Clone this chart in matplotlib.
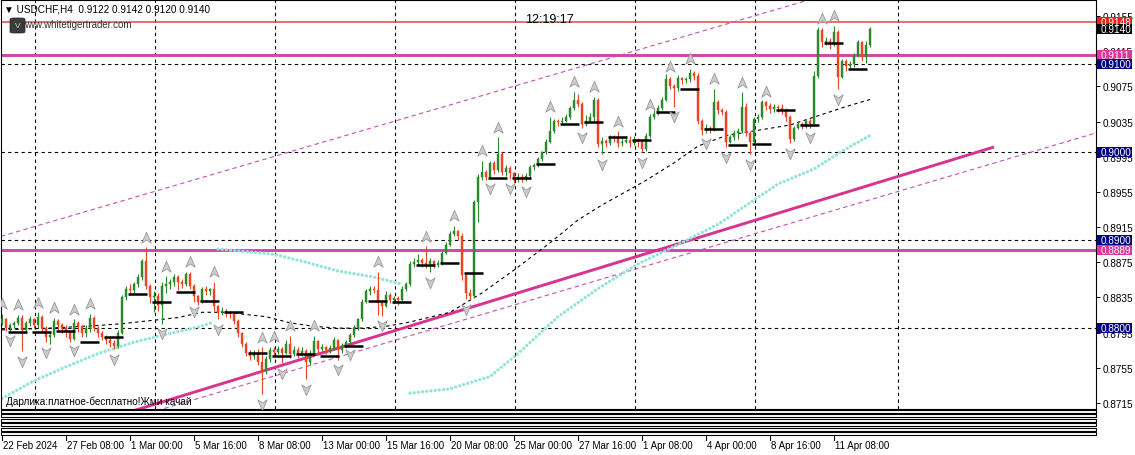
#!/usr/bin/env python3

import numpy as np
import matplotlib
matplotlib.use('Agg')
import matplotlib.pyplot as plt
import matplotlib.transforms as mtransforms
from matplotlib.path import Path
from matplotlib.patches import Rectangle, FancyBboxPatch


W, H = 1135, 456

# USDCHF H4 bars, prices in points (1 point = 0.0001)
first_open = 8806
closes = [
	8810, 8800, 8803, 8806, 8812, 8798, 8806, 8810, 8803, 8813, 8800, 8790,
	8792, 8808, 8803, 8800, 8796, 8788, 8806, 8802, 8794, 8800, 8812, 8800,
	8795, 8790, 8786, 8783, 8780, 8795, 8835, 8845, 8843, 8850, 8858, 8876,
	8848, 8835, 8836, 8826, 8848, 8850, 8852, 8858, 8853, 8850, 8862, 8848,
	8836, 8830, 8845, 8842, 8844, 8825, 8818, 8820, 8818, 8816, 8808, 8795,
	8782, 8772, 8768, 8772, 8762, 8752, 8765, 8775, 8773, 8776, 8772, 8782,
	8770, 8775, 8771, 8774, 8762, 8772, 8785, 8776, 8778, 8775, 8777, 8786,
	8775, 8779, 8784, 8792, 8800, 8810, 8830, 8842, 8845, 8843, 8828, 8825,
	8838, 8832, 8834, 8832, 8845, 8850, 8873, 8875, 8878, 8874, 8873, 8876,
	8872, 8874, 8886, 8895, 8907, 8910, 8905, 8860, 8840, 8836, 8944, 8972,
	8978, 8972, 8988, 8980, 8998, 8978, 8982, 8976, 8970, 8972, 8970, 8973,
	8983, 8985, 8992, 9000, 9012, 9024, 9036, 9034, 9036, 9040, 9050, 9060,
	9055, 9032, 9036, 9040, 9060, 9009, 9013, 9010, 9017, 9016, 9010, 9012,
	9014, 9010, 9014, 9012, 9004, 9018, 9040, 9044, 9050, 9060, 9083, 9075,
	9073, 9084, 9082, 9083, 9090, 9087, 9036, 9025, 9028, 9026, 9057, 9048,
	9046, 9012, 9017, 9022, 9024, 9052, 9022, 9012, 9038, 9040, 9057, 9053,
	9049, 9052, 9050, 9048, 9040, 9015, 9028, 9032, 9030, 9036, 9032, 9087,
	9139, 9125, 9127, 9123, 9137, 9086, 9104, 9098, 9100, 9110, 9125, 9108,
	9122, 9140,
]
highs = [
	8816, 8812, 8806, 8808, 8815, 8815, 8808, 8814, 8812, 8818, 8815, 8802,
	8796, 8812, 8810, 8806, 8803, 8798, 8810, 8808, 8804, 8804, 8816, 8814,
	8802, 8797, 8792, 8789, 8786, 8798, 8838, 8848, 8850, 8853, 8862, 8879,
	8892, 8850, 8842, 8840, 8852, 8859, 8856, 8861, 8860, 8856, 8864, 8864,
	8850, 8838, 8847, 8848, 8846, 8853, 8826, 8824, 8822, 8820, 8818, 8810,
	8796, 8784, 8775, 8775, 8776, 8778, 8768, 8778, 8779, 8780, 8778, 8786,
	8791, 8780, 8778, 8778, 8776, 8775, 8791, 8787, 8782, 8780, 8781, 8790,
	8788, 8783, 8787, 8795, 8803, 8812, 8833, 8845, 8848, 8848, 8864, 8832,
	8842, 8840, 8837, 8836, 8848, 8853, 8876, 8880, 8884, 8880, 8893, 8880,
	8878, 8877, 8888, 8898, 8910, 8916, 8912, 8908, 8862, 8845, 8946, 8975,
	8990, 8980, 8990, 8990, 9017, 9000, 8986, 8984, 8978, 8976, 8975, 8976,
	8985, 8988, 8995, 9002, 9015, 9040, 9038, 9038, 9040, 9043, 9053, 9069,
	9066, 9057, 9042, 9045, 9063, 9062, 9017, 9015, 9020, 9020, 9024, 9016,
	9018, 9018, 9018, 9016, 9014, 9022, 9043, 9048, 9054, 9063, 9089, 9086,
	9078, 9088, 9086, 9086, 9095, 9092, 9090, 9038, 9032, 9030, 9072, 9060,
	9050, 9048, 9020, 9025, 9028, 9068, 9056, 9024, 9040, 9044, 9060, 9058,
	9056, 9055, 9054, 9055, 9050, 9042, 9030, 9036, 9034, 9038, 9038, 9093,
	9142, 9141, 9131, 9130, 9144, 9139, 9106, 9106, 9104, 9113, 9128, 9127,
	9127, 9142,
]
lows = [
	8804, 8797, 8797, 8800, 8803, 8774, 8795, 8802, 8800, 8800, 8796, 8784,
	8782, 8790, 8798, 8795, 8790, 8784, 8786, 8796, 8790, 8790, 8796, 8797,
	8790, 8786, 8782, 8778, 8776, 8777, 8793, 8832, 8838, 8840, 8847, 8855,
	8845, 8828, 8818, 8820, 8805, 8840, 8845, 8848, 8843, 8846, 8848, 8845,
	8830, 8826, 8828, 8838, 8838, 8820, 8810, 8815, 8813, 8812, 8805, 8790,
	8778, 8768, 8764, 8765, 8758, 8725, 8748, 8762, 8768, 8770, 8760, 8770,
	8766, 8768, 8766, 8768, 8742, 8758, 8770, 8770, 8774, 8770, 8772, 8775,
	8764, 8772, 8777, 8782, 8790, 8798, 8808, 8828, 8838, 8840, 8815, 8814,
	8824, 8828, 8829, 8826, 8830, 8842, 8848, 8870, 8872, 8870, 8868, 8864,
	8868, 8869, 8872, 8884, 8893, 8905, 8900, 8855, 8833, 8833, 8834, 8921,
	8968, 8968, 8970, 8975, 8978, 8974, 8973, 8970, 8965, 8966, 8966, 8967,
	8970, 8980, 8983, 8990, 8998, 9010, 9022, 9030, 9032, 9034, 9038, 9048,
	9052, 9028, 9030, 9034, 9036, 9006, 8998, 9006, 9008, 9012, 9006, 9007,
	9010, 9006, 9008, 9006, 9000, 9002, 9016, 9038, 9042, 9048, 9058, 9072,
	9052, 9070, 9078, 9079, 9080, 9082, 9032, 9020, 9022, 9022, 9024, 9044,
	9042, 9006, 9010, 9014, 9015, 9022, 9018, 8998, 9010, 9035, 9038, 9048,
	9045, 9046, 9046, 9044, 9036, 9010, 9013, 9026, 9026, 9028, 9028, 9030,
	9085, 9120, 9122, 9118, 9121, 9072, 9084, 9092, 9096, 9097, 9108, 9104,
	9102, 9120,
]

# daily level segments (one per day, points)
day_levels = [
	8796, 8796, 8797, 8784, 8790, 8839, 8830, 8841, 8831, 8818, 8772, 8768,
	8771, 8768, 8780, 8831, 8830, 8872, 8874, 8863, 8971, 8971, 8987, 9032,
	9034, 9017, 9014, 9046, 9072, 9027, 9008, 9009, 9048, 9031, 9124, 9095,
]

up_fractals = [0, 4, 9, 13, 18, 22, 36, 41, 47, 53, 65, 68, 72, 78, 94, 106,
	113, 120, 124, 137, 143, 148, 154, 162, 167, 172, 178, 185, 191, 205, 208]
down_fractals = [2, 5, 11, 18, 28, 40, 48, 54, 65, 70, 76, 84, 87, 95, 107,
	116, 122, 127, 131, 145, 150, 160, 168, 176, 181, 187, 197, 202, 209]

# moving average readings (bar, points)
ma_bars = [0, 12, 24, 30, 36, 44, 50, 56, 60, 66, 72, 78, 84, 90, 96, 102,
	112, 120, 128, 137, 144, 150, 161, 168, 174, 181, 189, 197, 203, 211, 217]
ma_vals = [8798, 8800, 8803, 8805, 8808, 8812, 8818, 8818, 8816, 8813, 8806,
	8802, 8800, 8800, 8802, 8807, 8818, 8840, 8866, 8897, 8923, 8940, 8968,
	8988, 9007, 9019, 9025, 9031, 9040, 9052, 9060]

# dotted cyan indicator, three pieces
cyan_a_bars = [0, 8, 16, 24, 33, 41, 49, 53]
cyan_a_vals = [8720, 8740, 8756, 8771, 8784, 8793, 8801, 8807]
cyan_b_bars = [54, 68, 76, 84, 93, 100]
cyan_b_vals = [8890, 8884, 8875, 8865, 8858, 8850]
cyan_c_bars = [102, 112, 122, 129, 139, 149, 159, 169, 179, 194, 203, 211, 217]
cyan_c_vals = [8726, 8731, 8745, 8771, 8813, 8845, 8873, 8895, 8918, 8964,
	8981, 9004, 9019]

# trend objects: anchor bars and prices
trend_bars = [30, 248]
trend_vals = [8702, 9006]
chan_up_bars = [-0.5, 200]
chan_up_vals = [8904, 9171]
chan_lo_bars = [217.75, 272.75]
chan_lo_vals = [8947, 9021]

round_levels = [0.9100, 0.9000, 0.8900, 0.8800]
magenta_levels = [0.9111, 0.8889]
red_level = 0.9148

price_ticks = [0.9155, 0.9115, 0.9075, 0.9035, 0.8995, 0.8955, 0.8915,
	0.8875, 0.8835, 0.8795, 0.8755, 0.8715]
box_levels = [0.9148, 0.9140, 0.9111, 0.9100, 0.9000, 0.8900, 0.8889, 0.8800]
box_colors = ['#e8231b', '#000000', '#e0359f', '#000080', '#000080',
	'#000080', '#e0359f', '#000080']

time_labels = ['22 Feb 2024', '27 Feb 08:00', '1 Mar 00:00', '5 Mar 16:00',
	'8 Mar 08:00', '13 Mar 00:00', '15 Mar 16:00', '20 Mar 08:00',
	'25 Mar 00:00', '27 Mar 16:00', '1 Apr 08:00', '4 Apr 00:00',
	'8 Apr 16:00', '11 Apr 08:00']
time_label_bars = [0, 16, 32, 48, 64, 80, 96, 112, 128, 144, 160, 176, 192, 208]
grid_bars = [8.25, 38.25, 68.25, 98.25, 128.25, 158.25, 188.25, 224.0]


def fx(px):
	return px / W


def fy(py):
	return 1 - py / H


def pts(v):
	return np.asarray(v, dtype=float) / 10000.0


def line_through(bars, vals, x0, x1):
	b = np.asarray(bars, dtype=float)
	v = pts(vals)
	k = (v[1] - v[0]) / (b[1] - b[0])
	xs = np.array([x0, x1])
	return xs, v[0] + k * (xs - b[0])


def main():
	plt.rcParams['font.family'] = ['Liberation Sans', 'DejaVu Sans']
	fig = plt.figure(figsize=(W / 100, H / 100), dpi=100)
	fig.patch.set_facecolor('white')

	ax = fig.add_axes([fx(1), fy(410), 1095 / W, 409 / H])
	ax.set_xlim(-0.25, 273.5)
	ax.set_ylim(0.8708, 0.91732)
	for s in ax.spines.values():
		s.set_linewidth(0.8)
		s.set_color('black')
	ax.set_xticks([])
	ax.yaxis.tick_right()
	ax.set_yticks(price_ticks)
	ax.set_yticklabels(['%.4f' % t for t in price_ticks])
	ax.tick_params(axis='y', length=3, width=0.7, pad=1.5, labelsize=7.2, colors='black')

	dash = (0, (3, 3))
	for lv in round_levels:
		ax.axhline(lv, color='black', lw=0.8, ls=dash, zorder=1)
	for gb in grid_bars:
		ax.axvline(gb, color='black', lw=0.8, ls=dash, zorder=1)

	ax.axhline(red_level, color='#e04a4a', lw=1.1, zorder=2)
	for lv in magenta_levels:
		ax.axhline(lv, color='#cc47ad', lw=2.1, zorder=2)

	xs, ys = line_through(chan_up_bars, chan_up_vals, -0.25, 273.5)
	ax.plot(xs, ys, color='#c652b6', lw=0.8, ls=(0, (4, 3)), zorder=2)
	xs, ys = line_through(chan_lo_bars, chan_lo_vals, 35, 273.5)
	ax.plot(xs, ys, color='#c652b6', lw=0.8, ls=(0, (4, 3)), zorder=2)
	ax.plot(trend_bars, pts(trend_vals), color='#d9328f', lw=2.1, zorder=2.2,
		solid_capstyle='butt')

	dot = (0, (0.01, 1.25))
	for b, v in [(cyan_a_bars, cyan_a_vals), (cyan_b_bars, cyan_b_vals), (cyan_c_bars, cyan_c_vals)]:
		ax.plot(b, pts(v), color='#93e4d8', lw=2.4, ls=dot, dash_capstyle='round', zorder=2.5)

	ax.plot(ma_bars, pts(ma_vals), color='black', lw=0.8, ls=(0, (3, 3)), zorder=3)

	# candles
	c = pts(closes)
	o = np.concatenate([[first_open / 10000.0], c[:-1]])
	hi = np.maximum(pts(highs), np.maximum(o, c))
	lo = np.minimum(pts(lows), np.minimum(o, c))
	x = np.arange(len(c))
	bull = c >= o
	col = np.where(bull, '#2b8a2b', '#ea4624')
	ax.vlines(x, lo, hi, colors=col, lw=0.8, zorder=4)
	body = np.where(np.abs(c - o) < 0.00008, 0.00008, c - o)
	ax.bar(x, body, bottom=o, width=0.66, color=col, edgecolor=col, linewidth=0.3, zorder=4.1)

	for k, lv in enumerate(day_levels):
		s = 2 + 6 * k
		ax.hlines(lv / 10000.0, s - 0.5, s + 4.2, color='black', lw=1.8, zorder=4.5)

	up_path = Path([(0, 1), (0.75, -0.75), (0, -0.25), (-0.75, -0.75), (0, 1)],
		[Path.MOVETO, Path.LINETO, Path.LINETO, Path.LINETO, Path.CLOSEPOLY])
	dn_path = Path([(0, -1), (0.75, 0.75), (0, 0.25), (-0.75, 0.75), (0, -1)],
		[Path.MOVETO, Path.LINETO, Path.LINETO, Path.LINETO, Path.CLOSEPOLY])
	ax.plot(up_fractals, hi[up_fractals] + 0.0011, ls='none', marker=up_path, ms=9,
		mfc='#cdcdcd', mec='#9a9a9a', mew=0.6, zorder=5)
	ax.plot(down_fractals, lo[down_fractals] - 0.0011, ls='none', marker=dn_path, ms=9,
		mfc='#cdcdcd', mec='#9a9a9a', mew=0.6, zorder=5)

	# price labels with coloured boxes on the right scale
	tr = mtransforms.blended_transform_factory(ax.transAxes, ax.transData)
	half = 5.0 / 8792
	for lv, bc in zip(box_levels, box_colors):
		ax.add_patch(Rectangle((1 + 1 / 1095, lv - half), 35 / 1095, 2 * half,
			transform=tr, facecolor=bc, edgecolor='none', clip_on=False, zorder=6))
		ax.text(1 + 4.5 / 1095, lv, '%.4f' % lv, transform=tr, ha='left', va='center',
			fontsize=7.2, color='white', clip_on=False, zorder=7)

	# empty indicator sub-windows below the price chart
	for k in range(6):
		top = 411 + 4.4 * k
		fig.add_artist(Rectangle((fx(1), fy(top + 3.0)), 1095 / W, 3.0 / H,
			transform=fig.transFigure, facecolor='white', edgecolor='black', lw=0.8))

	# time axis
	tt = mtransforms.blended_transform_factory(ax.transData, fig.transFigure)
	for b, lab in zip(time_label_bars, time_labels):
		ax.plot([b, b], [fy(437), fy(441)], color='black', lw=0.8, transform=tt, clip_on=False)
		ax.text(b + 0.25, fy(446.5), lab, transform=tt, ha='left', va='center',
			fontsize=7, clip_on=False)

	# header, watermark and texts
	fig.text(fx(4), fy(9), '▼ USDCHF,H4  0.9122 0.9142 0.9120 0.9140', fontsize=7.2,
		va='center', ha='left')
	fig.add_artist(FancyBboxPatch((fx(10), fy(34)), 15 / W, 15 / H, transform=fig.transFigure,
		boxstyle='round,pad=0,rounding_size=0.003', facecolor='#3c3c3c', edgecolor='#222222', lw=0.5))
	fig.text(fx(17.5), fy(27), 'V', fontsize=6, color='#d0d0d0', ha='center', va='center')
	fig.text(fx(21), fy(25), 'www.whitetigertrader.com', fontsize=7, color='#303030',
		ha='left', va='center')
	fig.text(fx(549), fy(20), '12:19:17', fontsize=9, ha='center', va='center')
	fig.text(fx(6), fy(402), 'Дарлика:платное-бесплатно!Жми качай', fontsize=7.2,
		ha='left', va='center')

	fig.savefig('out.png', dpi=100, facecolor='white')


if __name__ == '__main__':
	main()
